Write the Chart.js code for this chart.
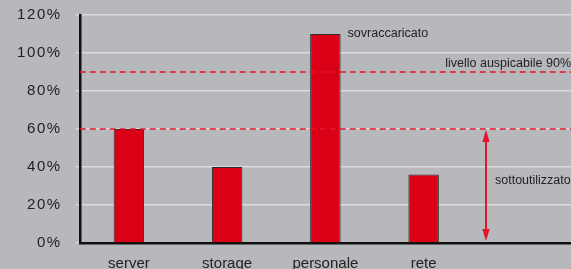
<!DOCTYPE html>
<html><head><meta charset="utf-8">
<script src="https://cdn.jsdelivr.net/npm/chart.js@4"></script>
<style>html,body{margin:0;padding:0;background:#b7b8bb;}#w{width:571px;height:269px;}</style>
</head><body><div id="w"><canvas id="c"></canvas></div>
<script>
const categories = ['server', 'storage', 'personale', 'rete', ''];
const utilization = [60, 40, 110, 36, null];
const yTicks = [0, 20, 40, 60, 80, 100, 120];
const refLines = [90, 60];
const refLabel = 'livello auspicabile 90%';
const overLabel = 'sovraccaricato';
const underLabel = 'sottoutilizzato';
const arrowFrom = 60, arrowTo = 0;

const FONT = '"Liberation Sans", Arial, sans-serif';
const LS = '1.6px';
const spacing = {
  id: 'spacing',
  beforeLayout(chart) { chart.ctx.letterSpacing = LS; },
  afterLayout(chart) {
    const xs = chart.scales.x;
    if (!xs._noSpacing) {
      const orig = xs.drawLabels;
      xs.drawLabels = function (a) {
        const c = this.ctx; const prev = c.letterSpacing;
        c.letterSpacing = '0px'; orig.call(this, a); c.letterSpacing = prev;
      };
      xs._noSpacing = true;
    }
  },
  beforeDraw(chart) { chart.ctx.letterSpacing = LS; }
};

const annot = {
  id: 'annot',
  afterDatasetsDraw(chart) {
    const {ctx, scales: {x, y}, chartArea: a} = chart;
    const RED = '#e3152b';
    ctx.save();
    ctx.letterSpacing = '0px';
    ctx.strokeStyle = RED;
    ctx.lineWidth = 1.5;
    ctx.setLineDash([6, 4]);
    refLines.forEach(v => {
      const py = Math.round(y.getPixelForValue(v));
      ctx.beginPath(); ctx.moveTo(a.left, py); ctx.lineTo(a.right, py); ctx.stroke();
    });
    ctx.setLineDash([]);
    ctx.font = '12.5px ' + FONT;
    ctx.fillStyle = '#222';
    ctx.textBaseline = 'bottom';
    ctx.textAlign = 'right';
    ctx.fillText(refLabel, a.right, y.getPixelForValue(refLines[0]) - 2);
    const meta = chart.getDatasetMeta(0);
    const bar = meta.data[2];
    ctx.textAlign = 'left';
    ctx.textBaseline = 'middle';
    ctx.fillText(overLabel, bar.x + bar.width / 2 + 7, bar.y);
    const ax = Math.round(x.getPixelForValue(4) - 36);
    const y1 = y.getPixelForValue(arrowFrom), y2 = y.getPixelForValue(arrowTo);
    ctx.strokeStyle = RED; ctx.fillStyle = RED; ctx.lineWidth = 2;
    ctx.beginPath(); ctx.moveTo(ax, y1 + 10); ctx.lineTo(ax, y2 - 10); ctx.stroke();
    ctx.beginPath(); ctx.moveTo(ax, y1 + 1); ctx.lineTo(ax - 3.7, y1 + 13); ctx.lineTo(ax + 3.7, y1 + 13); ctx.closePath(); ctx.fill();
    ctx.beginPath(); ctx.moveTo(ax, y2 - 2); ctx.lineTo(ax - 3.7, y2 - 14); ctx.lineTo(ax + 3.7, y2 - 14); ctx.closePath(); ctx.fill();
    ctx.fillStyle = '#222';
    ctx.fillText(underLabel, ax + 9, y.getPixelForValue(33));
    ctx.restore();
  }
};

new Chart(document.getElementById('c'), {
  type: 'bar',
  data: {
    labels: categories,
    datasets: [{
      data: utilization,
      backgroundColor: '#da0015',
      borderColor: '#2a2a2a',
      borderWidth: 1,
      barPercentage: 0.31,
      categoryPercentage: 1
    }]
  },
  options: {
    responsive: true,
    maintainAspectRatio: false,
    animation: false,
    layout: {autoPadding: false, padding: {left: 3, right: 0, top: 15, bottom: -8}},
    plugins: {legend: {display: false}, tooltip: {enabled: false}},
    scales: {
      y: {
        min: 0, max: 120,
        afterBuildTicks: s => { s.ticks = yTicks.map(v => ({value: v})); },
        afterFit: s => { s.paddingTop = 0; s.paddingBottom = 0; },
        ticks: {
          callback: v => v + '%',
          color: '#222',
          font: {family: FONT, size: 15},
          padding: 14
        },
        grid: {color: '#dadbdd', lineWidth: 1.5, tickLength: 4, tickColor: '#dadbdd'},
        border: {color: '#111', width: 2.5}
      },
      x: {
        afterFit: s => { s.paddingLeft = 0; s.paddingRight = 0; },
        ticks: {
          color: '#222',
          font: {family: FONT, size: 15},
          padding: 4
        },
        grid: {display: false},
        border: {color: '#111', width: 2.5}
      }
    }
  },
  plugins: [spacing, annot]
});
</script>
</body></html>
